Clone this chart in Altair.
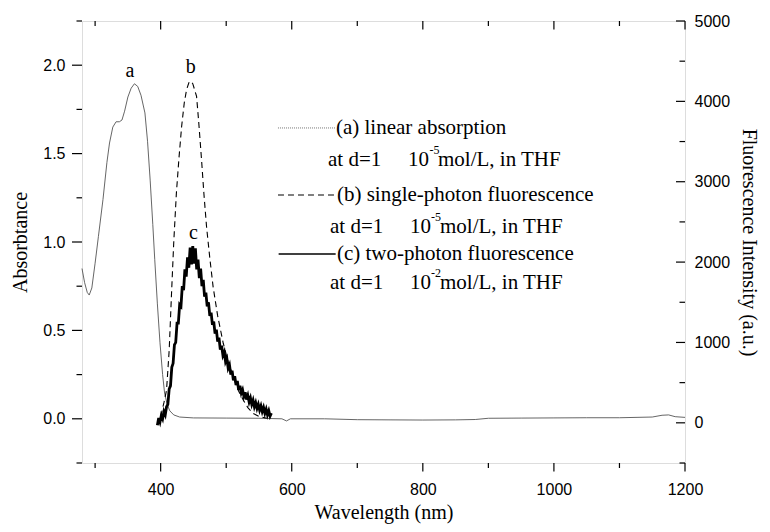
import altair as alt
import pandas as pd

# ---------------- data ----------------
# (a) linear absorption (left axis, absorbance)
ABS_NM = [280, 284, 288, 291, 295, 300, 305, 312, 318, 322, 327, 332, 337, 341, 345,
          350, 355, 360, 365, 370, 376, 380, 384, 388, 391, 395, 399, 403, 406, 410,
          414, 420, 429, 450, 500, 550, 585, 592, 598, 650, 700, 750, 800, 850, 880,
          900, 950, 1000, 1050, 1100, 1150, 1165, 1175, 1185, 1200]
ABS_VAL = [0.85, 0.77, 0.715, 0.70, 0.74, 0.88, 1.03, 1.24, 1.45, 1.56, 1.65, 1.68, 1.68, 1.69, 1.74,
           1.82, 1.87, 1.895, 1.88, 1.83, 1.73, 1.57, 1.35, 1.10, 0.90, 0.65, 0.43, 0.25, 0.146, 0.08,
           0.045, 0.022, 0.01, 0.005, 0.004, 0.003, 0.0, -0.012, 0.0, 0.0, -0.005, -0.006, -0.007, -0.006, -0.004,
           0.003, 0.004, 0.005, 0.006, 0.006, 0.01, 0.02, 0.022, 0.012, 0.008]

# (b) single-photon fluorescence (right axis)
SPF_NM = [400, 405, 409, 413, 416.6, 420, 424, 428, 432, 436, 439.5, 443, 445.6, 449, 452,
          454.8, 458, 462.4, 466, 470, 475, 480, 487, 495.5, 503, 510.7, 518, 526, 533, 541,
          550, 562]
SPF_VAL = [80, 250, 408, 900, 1612, 2250, 2858, 3300, 3688, 3980, 4144, 4230, 4250, 4220, 4140,
           4061, 3750, 3273, 2850, 2442, 2050, 1695, 1330, 990, 760, 574, 410, 284, 190, 118,
           80, 56]

# (c) two-photon fluorescence (right axis, noisy trace)
TPF_NM = [395, 397, 399, 401, 403, 405, 407, 409, 411, 413, 415, 417, 419, 421, 423, 425,
          427, 429, 431, 433, 435, 437, 439, 441, 443, 445, 447, 449, 451, 453, 455, 457,
          459, 461, 463, 465, 467, 469, 471, 473, 475, 477, 479, 481, 483, 485, 487, 489,
          491, 493, 495, 497, 499, 501, 503, 505, 507, 509, 511, 513, 515, 517, 519, 521,
          523, 525, 527, 529, 531, 533, 535, 537, 539, 541, 543, 545, 547, 549, 551, 553,
          555, 557, 559, 561, 563, 565, 567, 569]
TPF_VAL = [-30, 60, 10, 90, 50, 140, 100, 200, 230, 420, 460, 690, 740, 970, 1000, 1240,
           1240, 1470, 1450, 1700, 1650, 1910, 1820, 2060, 1930, 2180, 1970, 2200, 1980, 2170, 1910, 2030,
           1800, 1920, 1700, 1780, 1570, 1620, 1450, 1500, 1330, 1370, 1220, 1260, 1110, 1160, 1010, 1060,
           910, 960, 840, 880, 760, 800, 680, 720, 600, 650, 530, 580, 470, 520, 410, 460,
           370, 410, 330, 380, 290, 340, 260, 310, 230, 280, 200, 250, 180, 230, 160, 210,
           140, 190, 120, 170, 100, 150, 85, 120]

# tick values
X_MAJOR = [400, 600, 800, 1000, 1200]
X_MINOR = [300, 500, 700, 900, 1100]
L_MAJOR = [0.0, 0.5, 1.0, 1.5, 2.0]
L_MINOR = [-0.25, 0.25, 0.75, 1.25, 1.75, 2.25]
R_MAJOR = [0, 1000, 2000, 3000, 4000, 5000]
R_MINOR = [-500, 500, 1500, 2500, 3500, 4500]

# curve labels
PEAK_TEXT = ["a", "b", "c"]
PEAK_NM = [353, 446, 450]
PEAK_Y = [1.965, 1.99, 1.053]

# legend
LEG_STYLE = ["a", "b", "c"]
LEG_X1 = [579, 579, 580]
LEG_X2 = [666, 667, 667]
LEG_Y = [1.645, 1.266, 0.932]

LEG_TEXT = ["(a) linear absorption", "at d=1", "10", "mol/L, in THF",
            "(b) single-photon fluorescence", "at d=1", "10", "mol/L, in THF",
            "(c) two-photon fluorescence", "at d=1", "10", "mol/L, in THF"]
LEG_TX = [667.5, 655.3, 777.4, 823.1,
          669, 658.4, 780.4, 826.2,
          669, 658.4, 780.4, 826.2]
LEG_TY = [1.645, 1.464, 1.464, 1.464,
          1.266, 1.085, 1.085, 1.085,
          0.932, 0.768, 0.768, 0.768]
SUP_TEXT = ["-5", "-5", "-2"]
SUP_X = [810.2, 812.5, 812.5]
SUP_Y = [1.52, 1.141, 0.825]

# ---------------- chart ----------------
W, H = 603, 442
SERIF = "Liberation Serif"
SANS = "Liberation Sans"

xaxis = alt.Axis(values=X_MAJOR, format="d", ticks=False, tickSize=0, domain=False, grid=False,
                 labelFont=SANS, labelFontSize=16, labelPadding=18, labelFlush=False,
                 labelOverlap=False, labelColor="black",
                 title="Wavelength (nm)", titleFont=SERIF, titleFontSize=20,
                 titleFontWeight="normal", titleColor="black", titlePadding=5)
laxis = alt.Axis(values=L_MAJOR, format=".1f", ticks=False, tickSize=0, domain=False, grid=False,
                 labelFont=SANS, labelFontSize=16, labelPadding=17, labelFlush=False,
                 labelOverlap=False, labelColor="black",
                 title="Absorbtance", titleFont=SERIF, titleFontSize=20,
                 titleFontWeight="normal", titleColor="black", titlePadding=12)
raxis = alt.Axis(values=R_MAJOR, format="d", orient="right", ticks=False, tickSize=0, domain=False,
                 grid=False, labelFont=SANS, labelFontSize=16, labelPadding=9, labelFlush=False,
                 labelOverlap=False, labelColor="black",
                 title="Fluorescence Intensity (a.u.)", titleFont=SERIF, titleFontSize=20,
                 titleFontWeight="normal", titleColor="black", titlePadding=9)

X = alt.X("nm:Q", scale=alt.Scale(domain=[280, 1200], nice=False, zero=False), axis=xaxis)
X2 = alt.X2("nm2:Q")
YL = alt.Y("v:Q", scale=alt.Scale(domain=[-0.25, 2.25], nice=False, zero=False), axis=laxis)
YR = alt.Y("f:Q", scale=alt.Scale(domain=[-500, 5000], nice=False, zero=False), axis=raxis)

abs_df = pd.DataFrame({"nm": ABS_NM, "v": ABS_VAL})
spf_df = pd.DataFrame({"nm": SPF_NM, "f": SPF_VAL})
tpf_df = pd.DataFrame({"nm": TPF_NM, "f": TPF_VAL})

line_a = alt.Chart(abs_df).mark_line(color="#555555", strokeWidth=0.9).encode(x=X, y=YL)
line_b = alt.Chart(spf_df).mark_line(color="black", strokeWidth=1.1, strokeDash=[6, 4]).encode(x=X, y=YR)
line_c = alt.Chart(tpf_df).mark_line(color="black", strokeWidth=2.8).encode(x=X, y=YR)

peak_df = pd.DataFrame({"nm": PEAK_NM, "v": PEAK_Y, "t": PEAK_TEXT})
peaks = alt.Chart(peak_df).mark_text(font=SERIF, fontSize=20, color="black",
                                     align="center", baseline="middle").encode(x=X, y=YL, text="t:N")

leg_df = pd.DataFrame({"nm": LEG_X1, "nm2": LEG_X2, "v": LEG_Y, "s": LEG_STYLE})
leg_a = alt.Chart(leg_df[leg_df.s == "a"]).mark_rule(color="#777777", strokeWidth=1, strokeDash=[1, 1]).encode(x=X, x2=X2, y=YL)
leg_b = alt.Chart(leg_df[leg_df.s == "b"]).mark_rule(color="black", strokeWidth=1.1, strokeDash=[6, 4]).encode(x=X, x2=X2, y=YL)
leg_c = alt.Chart(leg_df[leg_df.s == "c"]).mark_rule(color="black", strokeWidth=1.3).encode(x=X, x2=X2, y=YL)

legt_df = pd.DataFrame({"nm": LEG_TX, "v": LEG_TY, "t": LEG_TEXT})
leg_text = alt.Chart(legt_df).mark_text(font=SERIF, fontSize=21, color="black",
                                        align="left", baseline="middle").encode(x=X, y=YL, text="t:N")
sup_df = pd.DataFrame({"nm": SUP_X, "v": SUP_Y, "t": SUP_TEXT})
sup_text = alt.Chart(sup_df).mark_text(font=SERIF, fontSize=12, color="black",
                                       align="left", baseline="middle").encode(x=X, y=YL, text="t:N")

TK = dict(color="black", strokeWidth=1.2)
lmaj = alt.Chart(pd.DataFrame({"v": L_MAJOR})).mark_rule(**TK).encode(x=alt.value(-10), x2=alt.value(0), y=YL)
lmin = alt.Chart(pd.DataFrame({"v": L_MINOR})).mark_rule(**TK).encode(x=alt.value(-5.5), x2=alt.value(0), y=YL)
bmaj = alt.Chart(pd.DataFrame({"nm": X_MAJOR})).mark_rule(**TK).encode(x=X, y=alt.value(H), y2=alt.value(H + 8.5))
bmin = alt.Chart(pd.DataFrame({"nm": X_MINOR})).mark_rule(**TK).encode(x=X, y=alt.value(H), y2=alt.value(H + 5))
tmaj = alt.Chart(pd.DataFrame({"nm": X_MAJOR})).mark_rule(**TK).encode(x=X, y=alt.value(0), y2=alt.value(8.5))
tmin = alt.Chart(pd.DataFrame({"nm": X_MINOR})).mark_rule(**TK).encode(x=X, y=alt.value(0), y2=alt.value(5))
rmaj = alt.Chart(pd.DataFrame({"f": R_MAJOR})).mark_rule(**TK).encode(x=alt.value(W - 9), x2=alt.value(W), y=YR)
rmin = alt.Chart(pd.DataFrame({"f": R_MINOR})).mark_rule(**TK).encode(x=alt.value(W - 5.5), x2=alt.value(W), y=YR)

left = alt.layer(line_a, peaks, leg_a, leg_b, leg_c, leg_text, sup_text,
                 lmaj, lmin, bmaj, bmin, tmaj, tmin)
right = alt.layer(line_b, line_c, rmaj, rmin)

chart = (
    alt.layer(left, right)
    .resolve_scale(y="independent")
    .properties(width=W, height=H,
                autosize=alt.AutoSizeParams(type="none"),
                padding={"left": 74, "top": 13, "right": 77, "bottom": 61})
    .configure_view(stroke="black", strokeWidth=1.4)
    .configure(background="white")
)

chart.save("out.html", embed_options={"renderer": "svg", "actions": False})
